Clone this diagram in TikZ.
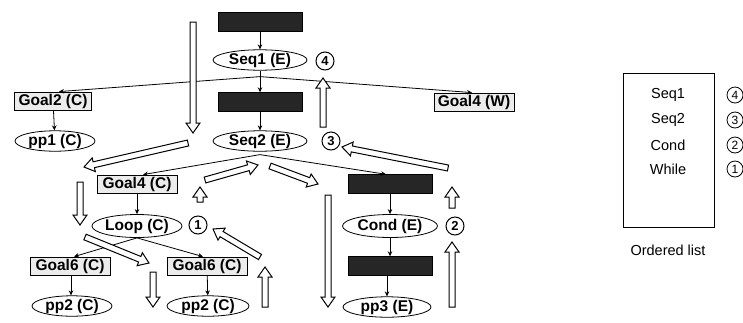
\documentclass[tikz,border=0pt]{standalone}
\usepackage{fontspec}
\setmainfont{Liberation Sans}
\usetikzlibrary{shapes.geometric,calc,arrows.meta}

% hollow block arrow from #1 to #2 (tip at #2)
\newcommand\harrow[2]{%
  \coordinate (hbase) at ($(#2)!10pt!(#1)$);
  \path[hollow] ($(#1)!3pt!90:(#2)$) -- ($(hbase)!3pt!90:(#2)$)
    -- ($(hbase)!7pt!90:(#2)$) -- (#2) -- ($(hbase)!7pt!-90:(#2)$)
    -- ($(hbase)!3pt!-90:(#2)$) -- ($(#1)!3pt!-90:(#2)$) -- cycle;}

\begin{document}
\begin{tikzpicture}[x=1pt,y=-1pt,
  lbl/.style={font=\bfseries\fontsize{15.5}{15.5}\selectfont},
  gbox/.style={lbl, draw, line width=0.8pt, fill=gray!15, minimum width=80pt, minimum height=18pt, inner sep=0.5pt},
  gell/.style={lbl, ellipse, draw, line width=0.8pt, fill=white, inner sep=0pt, minimum width=90pt, minimum height=20pt},
  dark/.style={draw, fill=black!85, minimum width=84pt, minimum height=19pt, inner sep=0pt},
  num/.style={circle, draw, line width=1pt, inner sep=0pt, minimum size=18pt, font=\bfseries\fontsize{13}{13}\selectfont},
  lnum/.style={circle, draw, line width=0.8pt, inner sep=0pt, minimum size=16pt, font=\fontsize{12}{12}\selectfont},
  ltext/.style={font=\fontsize{14.5}{14.5}\selectfont},
  link/.style={draw, line width=0.8pt, -{Stealth[length=5pt,width=4.5pt]}},
  hollow/.style={draw, line width=1pt, fill=white, line join=miter}]

\useasboundingbox (0,0) rectangle (743,322);

% main tree
\node[dark] (d1) at (260,22) {};
\node[gell, minimum width=94pt] (seq1) at (260,60) {Seq1 (E)};
\node[num] (n4) at (325,61) {4};
\node[dark] (d2) at (260,102) {};
\node[gell, minimum width=94pt, minimum height=19pt] (seq2) at (260,141) {Seq2 (E)};
\node[num] (n3) at (331,141) {3};

\node[gbox, minimum width=77pt] (g2) at (53,101) {Goal2 (C)};
\node[gell, minimum width=80pt, minimum height=17pt] (pp1) at (55,141) {pp1 (C)};
\node[gbox, minimum width=80pt] (g4w) at (474,102) {Goal4 (W)};

\node[gbox] (g4c) at (137,184) {Goal4 (C)};
\node[gell, minimum height=23pt] (loop) at (137,226) {Loop (C)};
\node[num] (n1) at (198,225) {1};
\node[gbox] (g6a) at (70,266) {Goal6 (C)};
\node[gbox] (g6b) at (207,266) {Goal6 (C)};
\node[gell, minimum width=80pt, minimum height=19pt] (pp2a) at (72,306) {pp2 (C)};
\node[gell, minimum width=82pt, minimum height=19pt] (pp2b) at (208,306) {pp2 (C)};

\node[dark] (d3) at (390,184) {};
\node[gell, minimum width=95pt, minimum height=23pt] (cond) at (390,226) {Cond (E)};
\node[num] (n2) at (455,226) {2};
\node[dark] (d4) at (390,266) {};
\node[gell, minimum width=88pt, minimum height=20pt] (pp3) at (387,307) {pp3 (E)};

% tree edges
\coordinate (f1) at ($(seq1.south)+(0,6)$);
\coordinate (f2) at ($(seq2.south)+(0,3)$);
\path[link] (d1) -- (seq1);
\path[link] (seq1) -- (d2);
\path[link] (d2) -- (seq2);
\path[link] (f1) -- ([xshift=6pt]g2.north);
\path[link] (f1) -- ([xshift=-2pt]g4w.north);
\path[link] (g2) -- (pp1);
\path[link] (f2) -- ([xshift=6pt]g4c.north);
\path[link] (f2) -- ([xshift=-4pt]d3.north);
\path[link] (g4c) -- (loop);
\path[link] (loop.south) -- ([xshift=4pt]g6a.north);
\path[link] (loop.south) -- ([xshift=-4pt]g6b.north);
\path[link] ([xshift=1pt]g6a.south) -- ([xshift=-1pt]pp2a.north);
\path[link] (g6b) -- (pp2b);
\path[link] (d3) -- (cond);
\path[link] (cond) -- (d4);
\path[link] ([xshift=-3pt]d4.south) -- (pp3);

% traversal arrows
\harrow{193,22}{193,133}
\harrow{323,127}{323,78}
\harrow{448,168}{342,147}
\harrow{188,143}{84,167}
\harrow{205,180}{258,165}
\harrow{270,166}{318,184}
\harrow{328,195}{328,307}
\harrow{452,208}{452,187}
\harrow{452,307}{452,242}
\harrow{80,182}{80,225}
\harrow{85,237}{149,263}
\harrow{153,272}{153,307}
\harrow{265,307}{265,267}
\harrow{260,257}{213,229}
\harrow{200,202}{200,187}

% ordered list
\node[draw, line width=0.8pt, minimum width=91pt, minimum height=154pt] (list) at (668.5,150) {};
\node[ltext] (l1) at (668,95) {Seq1};
\node[ltext] (l2) at (668,120) {Seq2};
\node[ltext] (l3) at (668,145) {Cond};
\node[ltext] (l4) at (668,169) {While};
\node[lnum] (c4) at (735,95) {4};
\node[lnum] (c3) at (735,120) {3};
\node[lnum] (c2) at (735,145) {2};
\node[lnum] (c1) at (735,169) {1};
\node[ltext] (cap) at (668,250) {Ordered list};
\end{tikzpicture}
\end{document}
